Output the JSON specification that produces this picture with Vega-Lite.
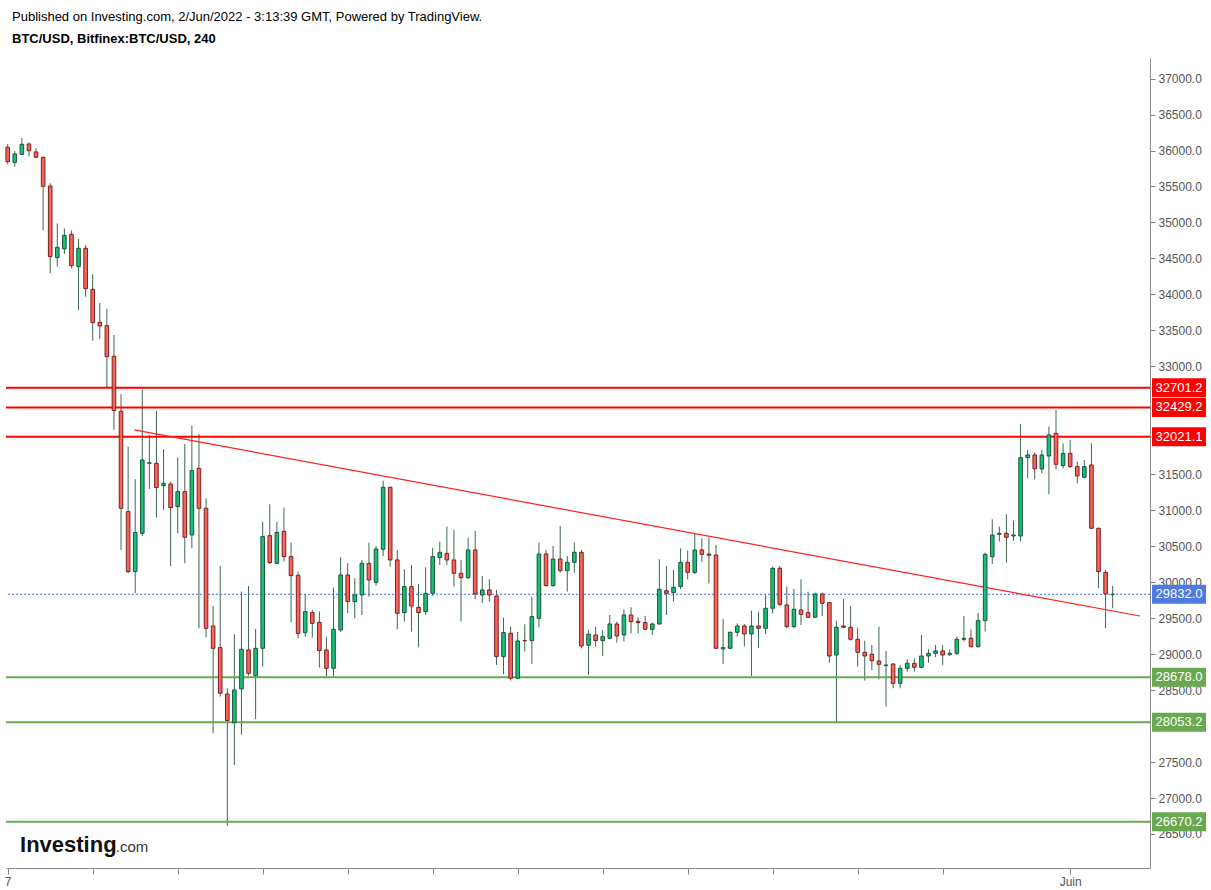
{
  "$schema": "https://vega.github.io/schema/vega-lite/v6.json",
  "autosize": {"type": "none"},
  "width": 1144,
  "height": 810,
  "padding": {"left": 6, "top": 58, "right": 61, "bottom": 22},
  "background": "#ffffff",
  "config": {"view": {"stroke": null}},
  "title": {
    "text": "Published on Investing.com, 2/Jun/2022 - 3:13:39 GMT, Powered by TradingView.",
    "subtitle": "BTC/USD, Bitfinex:BTC/USD, 240",
    "anchor": "start", "frame": "group", "dx": 6, "offset": 12,
    "font": "Liberation Sans", "fontSize": 13, "fontWeight": "normal", "color": "#000000",
    "subtitleFont": "Liberation Sans", "subtitleFontSize": 13, "subtitleFontWeight": "bold",
    "subtitleColor": "#000000", "subtitlePadding": 9
  },
  "datasets": {
    "candles": [
      {"t":"2022-05-07T00:00Z","o":36045,"h":36091,"l":35808,"c":35845},
      {"t":"2022-05-07T04:00Z","o":35836,"h":35994,"l":35776,"c":35952},
      {"t":"2022-05-07T08:00Z","o":35947,"h":36174,"l":35940,"c":36086},
      {"t":"2022-05-07T12:00Z","o":36091,"h":36110,"l":35915,"c":35998},
      {"t":"2022-05-07T16:00Z","o":35980,"h":36031,"l":35892,"c":35906},
      {"t":"2022-05-07T20:00Z","o":35906,"h":35915,"l":34887,"c":35503},
      {"t":"2022-05-08T00:00Z","o":35507,"h":35544,"l":34293,"c":34525},
      {"t":"2022-05-08T04:00Z","o":34511,"h":34988,"l":34386,"c":34655},
      {"t":"2022-05-08T08:00Z","o":34632,"h":34919,"l":34562,"c":34822},
      {"t":"2022-05-08T12:00Z","o":34835,"h":34887,"l":34363,"c":34400},
      {"t":"2022-05-08T16:00Z","o":34386,"h":34771,"l":33784,"c":34641},
      {"t":"2022-05-08T20:00Z","o":34641,"h":34687,"l":33969,"c":34080},
      {"t":"2022-05-09T00:00Z","o":34071,"h":34280,"l":33357,"c":33608},
      {"t":"2022-05-09T04:00Z","o":33612,"h":33881,"l":33381,"c":33561},
      {"t":"2022-05-09T08:00Z","o":33566,"h":33798,"l":32695,"c":33135},
      {"t":"2022-05-09T12:00Z","o":33140,"h":33436,"l":32116,"c":32385},
      {"t":"2022-05-09T16:00Z","o":32375,"h":32612,"l":30448,"c":31027},
      {"t":"2022-05-09T20:00Z","o":30981,"h":31884,"l":30124,"c":30147},
      {"t":"2022-05-10T00:00Z","o":30147,"h":31430,"l":29846,"c":30689},
      {"t":"2022-05-10T04:00Z","o":30679,"h":32681,"l":30642,"c":31699},
      {"t":"2022-05-10T08:00Z","o":31652,"h":32046,"l":31296,"c":31660},
      {"t":"2022-05-10T12:00Z","o":31652,"h":32380,"l":30897,"c":31314},
      {"t":"2022-05-10T16:00Z","o":31342,"h":31847,"l":31004,"c":31374},
      {"t":"2022-05-10T20:00Z","o":31365,"h":31398,"l":30225,"c":31036},
      {"t":"2022-05-11T00:00Z","o":31050,"h":31736,"l":30679,"c":31259},
      {"t":"2022-05-11T04:00Z","o":31259,"h":31921,"l":30262,"c":30624},
      {"t":"2022-05-11T08:00Z","o":30656,"h":32176,"l":30471,"c":31550},
      {"t":"2022-05-11T12:00Z","o":31583,"h":32060,"l":29359,"c":31027},
      {"t":"2022-05-11T16:00Z","o":31027,"h":31166,"l":29234,"c":29359},
      {"t":"2022-05-11T20:00Z","o":29391,"h":29670,"l":27900,"c":29081},
      {"t":"2022-05-12T00:00Z","o":29090,"h":30225,"l":28409,"c":28456},
      {"t":"2022-05-12T04:00Z","o":28446,"h":28525,"l":26610,"c":28076},
      {"t":"2022-05-12T08:00Z","o":28048,"h":29276,"l":27459,"c":28502},
      {"t":"2022-05-12T12:00Z","o":28516,"h":29869,"l":27880,"c":29067},
      {"t":"2022-05-12T16:00Z","o":29058,"h":29947,"l":28700,"c":28733},
      {"t":"2022-05-12T20:00Z","o":28701,"h":29350,"l":28100,"c":29081},
      {"t":"2022-05-13T00:00Z","o":29081,"h":30841,"l":28826,"c":30633},
      {"t":"2022-05-13T04:00Z","o":30647,"h":31082,"l":30253,"c":30272},
      {"t":"2022-05-13T08:00Z","o":30262,"h":30841,"l":30253,"c":30693},
      {"t":"2022-05-13T12:00Z","o":30707,"h":31036,"l":30286,"c":30355},
      {"t":"2022-05-13T16:00Z","o":30355,"h":30550,"l":29442,"c":30091},
      {"t":"2022-05-13T20:00Z","o":30096,"h":30147,"l":29220,"c":29289},
      {"t":"2022-05-14T00:00Z","o":29299,"h":29832,"l":29243,"c":29591},
      {"t":"2022-05-14T04:00Z","o":29577,"h":29614,"l":29229,"c":29428},
      {"t":"2022-05-14T08:00Z","o":29442,"h":29591,"l":28812,"c":29049},
      {"t":"2022-05-14T12:00Z","o":29058,"h":29243,"l":28687,"c":28803},
      {"t":"2022-05-14T16:00Z","o":28803,"h":29924,"l":28678,"c":29345},
      {"t":"2022-05-14T20:00Z","o":29336,"h":30346,"l":29310,"c":30100},
      {"t":"2022-05-15T00:00Z","o":30100,"h":30262,"l":29567,"c":29730},
      {"t":"2022-05-15T04:00Z","o":29730,"h":30054,"l":29498,"c":29822},
      {"t":"2022-05-15T08:00Z","o":29822,"h":30309,"l":29544,"c":30262},
      {"t":"2022-05-15T12:00Z","o":30262,"h":30550,"l":29799,"c":30031},
      {"t":"2022-05-15T16:00Z","o":29998,"h":30503,"l":29952,"c":30462},
      {"t":"2022-05-15T20:00Z","o":30457,"h":31411,"l":30364,"c":31319},
      {"t":"2022-05-16T00:00Z","o":31319,"h":31328,"l":30216,"c":30309},
      {"t":"2022-05-16T04:00Z","o":30309,"h":30448,"l":29345,"c":29567},
      {"t":"2022-05-16T08:00Z","o":29577,"h":30179,"l":29452,"c":29938},
      {"t":"2022-05-16T12:00Z","o":29938,"h":30239,"l":29313,"c":29669},
      {"t":"2022-05-16T16:00Z","o":29651,"h":29975,"l":29095,"c":29577},
      {"t":"2022-05-16T20:00Z","o":29591,"h":30207,"l":29544,"c":29845},
      {"t":"2022-05-17T00:00Z","o":29845,"h":30480,"l":29808,"c":30355},
      {"t":"2022-05-17T04:00Z","o":30341,"h":30563,"l":30239,"c":30415},
      {"t":"2022-05-17T08:00Z","o":30401,"h":30772,"l":30239,"c":30309},
      {"t":"2022-05-17T12:00Z","o":30309,"h":30726,"l":29938,"c":30123},
      {"t":"2022-05-17T16:00Z","o":30123,"h":30309,"l":29452,"c":30063},
      {"t":"2022-05-17T20:00Z","o":30063,"h":30619,"l":30040,"c":30448},
      {"t":"2022-05-18T00:00Z","o":30448,"h":30712,"l":29762,"c":29836},
      {"t":"2022-05-18T04:00Z","o":29822,"h":30086,"l":29706,"c":29892},
      {"t":"2022-05-18T08:00Z","o":29892,"h":30040,"l":29730,"c":29822},
      {"t":"2022-05-18T12:00Z","o":29808,"h":29892,"l":28849,"c":28965},
      {"t":"2022-05-18T16:00Z","o":28965,"h":29507,"l":28724,"c":29299},
      {"t":"2022-05-18T20:00Z","o":29290,"h":29382,"l":28631,"c":28664},
      {"t":"2022-05-19T00:00Z","o":28664,"h":29308,"l":28655,"c":29183},
      {"t":"2022-05-19T04:00Z","o":29190,"h":29415,"l":29035,"c":29185},
      {"t":"2022-05-19T08:00Z","o":29188,"h":29799,"l":28863,"c":29521},
      {"t":"2022-05-19T12:00Z","o":29498,"h":30550,"l":29373,"c":30392},
      {"t":"2022-05-19T16:00Z","o":30392,"h":30448,"l":29940,"c":29952},
      {"t":"2022-05-19T20:00Z","o":29952,"h":30503,"l":29940,"c":30322},
      {"t":"2022-05-20T00:00Z","o":30322,"h":30781,"l":30133,"c":30160},
      {"t":"2022-05-20T04:00Z","o":30160,"h":30364,"l":29868,"c":30276},
      {"t":"2022-05-20T08:00Z","o":30276,"h":30550,"l":30133,"c":30415},
      {"t":"2022-05-20T12:00Z","o":30415,"h":30448,"l":29081,"c":29113},
      {"t":"2022-05-20T16:00Z","o":29123,"h":29336,"l":28710,"c":29276},
      {"t":"2022-05-20T20:00Z","o":29266,"h":29382,"l":29104,"c":29187},
      {"t":"2022-05-21T00:00Z","o":29187,"h":29336,"l":28974,"c":29243},
      {"t":"2022-05-21T04:00Z","o":29220,"h":29544,"l":29206,"c":29419},
      {"t":"2022-05-21T08:00Z","o":29419,"h":29452,"l":29160,"c":29252},
      {"t":"2022-05-21T12:00Z","o":29266,"h":29623,"l":29174,"c":29544},
      {"t":"2022-05-21T16:00Z","o":29544,"h":29651,"l":29289,"c":29452},
      {"t":"2022-05-21T20:00Z","o":29456,"h":29512,"l":29289,"c":29438},
      {"t":"2022-05-22T00:00Z","o":29438,"h":29530,"l":29336,"c":29345},
      {"t":"2022-05-22T04:00Z","o":29345,"h":29438,"l":29266,"c":29419},
      {"t":"2022-05-22T08:00Z","o":29419,"h":30318,"l":29410,"c":29901},
      {"t":"2022-05-22T12:00Z","o":29882,"h":30225,"l":29544,"c":29845},
      {"t":"2022-05-22T16:00Z","o":29855,"h":30170,"l":29730,"c":29929},
      {"t":"2022-05-22T20:00Z","o":29938,"h":30471,"l":29901,"c":30276},
      {"t":"2022-05-23T00:00Z","o":30276,"h":30438,"l":30040,"c":30137},
      {"t":"2022-05-23T04:00Z","o":30137,"h":30670,"l":30114,"c":30448},
      {"t":"2022-05-23T08:00Z","o":30448,"h":30610,"l":30285,"c":30387},
      {"t":"2022-05-23T12:00Z","o":30392,"h":30624,"l":29984,"c":30374},
      {"t":"2022-05-23T16:00Z","o":30378,"h":30517,"l":29070,"c":29081},
      {"t":"2022-05-23T20:00Z","o":29072,"h":29489,"l":28863,"c":29090},
      {"t":"2022-05-24T00:00Z","o":29081,"h":29313,"l":29067,"c":29303},
      {"t":"2022-05-24T04:00Z","o":29303,"h":29428,"l":29243,"c":29391},
      {"t":"2022-05-24T08:00Z","o":29391,"h":29419,"l":29104,"c":29280},
      {"t":"2022-05-24T12:00Z","o":29280,"h":29604,"l":28696,"c":29391},
      {"t":"2022-05-24T16:00Z","o":29391,"h":29591,"l":29090,"c":29359},
      {"t":"2022-05-24T20:00Z","o":29359,"h":29822,"l":29275,"c":29637},
      {"t":"2022-05-25T00:00Z","o":29637,"h":30216,"l":29567,"c":30193},
      {"t":"2022-05-25T04:00Z","o":30193,"h":30225,"l":29669,"c":29692},
      {"t":"2022-05-25T08:00Z","o":29683,"h":29938,"l":29359,"c":29382},
      {"t":"2022-05-25T12:00Z","o":29382,"h":29906,"l":29359,"c":29623},
      {"t":"2022-05-25T16:00Z","o":29614,"h":30040,"l":29405,"c":29553},
      {"t":"2022-05-25T20:00Z","o":29577,"h":29868,"l":29500,"c":29512},
      {"t":"2022-05-26T00:00Z","o":29512,"h":29855,"l":29500,"c":29836},
      {"t":"2022-05-26T04:00Z","o":29836,"h":29855,"l":29530,"c":29706},
      {"t":"2022-05-26T08:00Z","o":29715,"h":29720,"l":28882,"c":28974},
      {"t":"2022-05-26T12:00Z","o":28988,"h":29465,"l":28040,"c":29373},
      {"t":"2022-05-26T16:00Z","o":29391,"h":29762,"l":29360,"c":29373},
      {"t":"2022-05-26T20:00Z","o":29373,"h":29669,"l":29187,"c":29206},
      {"t":"2022-05-27T00:00Z","o":29206,"h":29368,"l":28826,"c":29025},
      {"t":"2022-05-27T04:00Z","o":29025,"h":29187,"l":28631,"c":28974},
      {"t":"2022-05-27T08:00Z","o":28997,"h":29127,"l":28780,"c":28909},
      {"t":"2022-05-27T12:00Z","o":28905,"h":29382,"l":28650,"c":28858},
      {"t":"2022-05-27T16:00Z","o":28840,"h":29044,"l":28270,"c":28849},
      {"t":"2022-05-27T20:00Z","o":28863,"h":28870,"l":28525,"c":28594},
      {"t":"2022-05-28T00:00Z","o":28594,"h":28849,"l":28525,"c":28803},
      {"t":"2022-05-28T04:00Z","o":28803,"h":28928,"l":28756,"c":28872},
      {"t":"2022-05-28T08:00Z","o":28872,"h":28942,"l":28756,"c":28817},
      {"t":"2022-05-28T12:00Z","o":28817,"h":29266,"l":28803,"c":28974},
      {"t":"2022-05-28T16:00Z","o":28974,"h":29067,"l":28881,"c":29011},
      {"t":"2022-05-28T20:00Z","o":29011,"h":29127,"l":28956,"c":29044},
      {"t":"2022-05-29T00:00Z","o":29044,"h":29127,"l":28849,"c":28988},
      {"t":"2022-05-29T04:00Z","o":28997,"h":29067,"l":28974,"c":29011},
      {"t":"2022-05-29T08:00Z","o":29011,"h":29243,"l":28988,"c":29206},
      {"t":"2022-05-29T12:00Z","o":29206,"h":29530,"l":29174,"c":29220},
      {"t":"2022-05-29T16:00Z","o":29220,"h":29345,"l":29090,"c":29104},
      {"t":"2022-05-29T20:00Z","o":29104,"h":29576,"l":29090,"c":29465},
      {"t":"2022-05-30T00:00Z","o":29465,"h":30411,"l":29313,"c":30387},
      {"t":"2022-05-30T04:00Z","o":30355,"h":30874,"l":30253,"c":30656},
      {"t":"2022-05-30T08:00Z","o":30666,"h":30772,"l":30564,"c":30679},
      {"t":"2022-05-30T12:00Z","o":30679,"h":30943,"l":30272,"c":30624},
      {"t":"2022-05-30T16:00Z","o":30642,"h":30855,"l":30577,"c":30656},
      {"t":"2022-05-30T20:00Z","o":30642,"h":32199,"l":30564,"c":31731},
      {"t":"2022-05-31T00:00Z","o":31731,"h":31838,"l":31444,"c":31768},
      {"t":"2022-05-31T04:00Z","o":31768,"h":31801,"l":31430,"c":31574},
      {"t":"2022-05-31T08:00Z","o":31574,"h":31838,"l":31513,"c":31768},
      {"t":"2022-05-31T12:00Z","o":31754,"h":32162,"l":31221,"c":32046},
      {"t":"2022-05-31T16:00Z","o":32069,"h":32394,"l":31569,"c":31638},
      {"t":"2022-05-31T20:00Z","o":31620,"h":31930,"l":31583,"c":31791},
      {"t":"2022-06-01T00:00Z","o":31791,"h":31977,"l":31592,"c":31606},
      {"t":"2022-06-01T04:00Z","o":31606,"h":31675,"l":31374,"c":31476},
      {"t":"2022-06-01T08:00Z","o":31458,"h":31698,"l":31444,"c":31606},
      {"t":"2022-06-01T12:00Z","o":31629,"h":31930,"l":30740,"c":30749},
      {"t":"2022-06-01T16:00Z","o":30749,"h":30758,"l":29915,"c":30146},
      {"t":"2022-06-01T20:00Z","o":30137,"h":30170,"l":29359,"c":29836},
      {"t":"2022-06-02T00:00Z","o":29830,"h":29947,"l":29637,"c":29832}
    ],
    "levels": [
      {"level": 32701.2, "kind": "res"},
      {"level": 32429.2, "kind": "res"},
      {"level": 32021.1, "kind": "res"},
      {"level": 28678.0, "kind": "sup"},
      {"level": 28053.2, "kind": "sup"},
      {"level": 26670.2, "kind": "sup"},
      {"level": 29832.0, "kind": "last"}
    ],
    "trend": [
      {"t": "2022-05-09T23:30Z", "p": 32116},
      {"t": "2022-06-02T15:26Z", "p": 29530}
    ]
  },
  "data": {"name": "candles"},
  "encoding": {
    "y": {
      "type": "quantitative",
      "scale": {"domain": [26027, 37286], "nice": false, "zero": false},
      "axis": {
        "title": null, "grid": false, "orient": "right", "format": ".1f",
        "values": [26500, 27000, 27500, 28500, 29000, 29500, 30000, 30500, 31000, 31500, 33000, 33500, 34000, 34500, 35000, 35500, 36000, 36500, 37000],
        "labelFont": "Liberation Sans", "labelFontSize": 12, "labelColor": "#555555",
        "labelPadding": 3, "labelOverlap": false, "labelFlush": false,
        "tickColor": "#8a8a8a", "tickSize": 5, "domainColor": "#8a8a8a", "zindex": 0
      }
    }
  },
  "layer": [
    {
      "mark": {"type": "rule", "color": "#3d6650", "strokeWidth": 1},
      "encoding": {
        "x": {
          "field": "t", "type": "temporal",
          "scale": {"type": "utc", "nice": false, "padding": 0,
            "domain": [{"year": 2022, "month": 5, "date": 6, "hours": 23, "minutes": 2, "utc": true},
                       {"year": 2022, "month": 6, "date": 2, "hours": 21, "minutes": 5, "utc": true}]},
          "axis": {
            "title": null, "grid": false, "orient": "bottom",
            "values": [
              {"year": 2022, "month": 5, "date": 7, "utc": true},
              {"year": 2022, "month": 5, "date": 9, "utc": true},
              {"year": 2022, "month": 5, "date": 11, "utc": true},
              {"year": 2022, "month": 5, "date": 13, "utc": true},
              {"year": 2022, "month": 5, "date": 15, "utc": true},
              {"year": 2022, "month": 5, "date": 17, "utc": true},
              {"year": 2022, "month": 5, "date": 19, "utc": true},
              {"year": 2022, "month": 5, "date": 21, "utc": true},
              {"year": 2022, "month": 5, "date": 23, "utc": true},
              {"year": 2022, "month": 5, "date": 25, "utc": true},
              {"year": 2022, "month": 5, "date": 27, "utc": true},
              {"year": 2022, "month": 5, "date": 29, "utc": true},
              {"year": 2022, "month": 6, "date": 1, "utc": true}
            ],
            "labelExpr": "utcmonth(datum.value) == 5 && utcdate(datum.value) == 1 ? 'Juin' : (utcdate(datum.value) == 7 ? '7' : '')",
            "labelFont": "Liberation Sans Narrow, Liberation Sans", "labelFontSize": 12, "labelColor": "#555555",
            "labelPadding": 2, "labelFlush": false, "labelOverlap": false,
            "tickColor": "#8a8a8a", "tickSize": 6, "domainColor": "#8a8a8a", "zindex": 0
          }
        },
        "y": {"field": "l", "type": "quantitative"},
        "y2": {"field": "h"}
      }
    },
    {
      "data": {"name": "levels"},
      "transform": [{"filter": "datum.kind != 'last'"}],
      "mark": {"type": "rule", "strokeWidth": 2},
      "encoding": {
        "y": {"field": "level", "type": "quantitative"},
        "color": {"field": "kind", "type": "nominal", "legend": null,
          "scale": {"domain": ["res", "sup", "last"], "range": ["#ff0000", "#6aa84f", "#4f79e3"]}}
      }
    },
    {
      "data": {"name": "levels"},
      "transform": [{"filter": "datum.kind == 'last'"}],
      "mark": {"type": "rule", "strokeWidth": 1, "strokeDash": [2, 2], "color": "#3a66e0"},
      "encoding": {
        "y": {"field": "level", "type": "quantitative"}
      }
    },
    {
      "data": {"name": "trend"},
      "mark": {"type": "line", "color": "#ff2020", "strokeWidth": 1.2},
      "encoding": {
        "x": {"field": "t", "type": "temporal"},
        "y": {"field": "p", "type": "quantitative"}
      }
    },
    {
      "mark": {"type": "bar", "size": 3.6, "strokeWidth": 1},
      "encoding": {
        "x": {"field": "t", "type": "temporal"},
        "y": {"field": "o", "type": "quantitative"},
        "y2": {"field": "c"},
        "fill": {"condition": {"test": "datum.c >= datum.o", "value": "#14c07a"}, "value": "#f9645a"},
        "stroke": {"condition": {"test": "datum.c >= datum.o", "value": "#1c5538"}, "value": "#7a2020"}
      }
    },
    {
      "data": {"name": "levels"},
      "mark": {"type": "tick", "orient": "horizontal", "size": 54, "thickness": 19, "opacity": 1},
      "encoding": {
        "x": {"datum": {"year": 2022, "month": 6, "date": 3, "hours": 13, "minutes": 28, "utc": true}, "type": "temporal"},
        "y": {"field": "level", "type": "quantitative"},
        "color": {"field": "kind", "type": "nominal", "legend": null}
      }
    },
    {
      "data": {"name": "levels"},
      "mark": {"type": "text", "color": "#ffffff", "align": "center", "baseline": "middle", "font": "Liberation Sans", "fontSize": 13},
      "encoding": {
        "x": {"datum": {"year": 2022, "month": 6, "date": 3, "hours": 13, "minutes": 28, "utc": true}, "type": "temporal"},
        "y": {"field": "level", "type": "quantitative"},
        "text": {"field": "level", "format": ".1f"}
      }
    },
    {
      "data": {"values": [{"word": "Investing"}]},
      "mark": {"type": "text", "align": "left", "baseline": "alphabetic", "font": "Liberation Sans", "fontSize": 22, "fontWeight": "bold", "color": "#111111"},
      "encoding": {
        "x": {"datum": {"year": 2022, "month": 5, "date": 7, "hours": 6, "minutes": 57, "utc": true}, "type": "temporal"},
        "y": {"datum": 26250, "type": "quantitative"},
        "text": {"field": "word"}
      }
    },
    {
      "data": {"values": [{"word": ".com"}]},
      "mark": {"type": "text", "align": "left", "baseline": "alphabetic", "font": "Liberation Sans", "fontSize": 15, "color": "#333333"},
      "encoding": {
        "x": {"datum": {"year": 2022, "month": 5, "date": 9, "hours": 13, "minutes": 0, "utc": true}, "type": "temporal"},
        "y": {"datum": 26250, "type": "quantitative"},
        "text": {"field": "word"}
      }
    }
  ]
}
